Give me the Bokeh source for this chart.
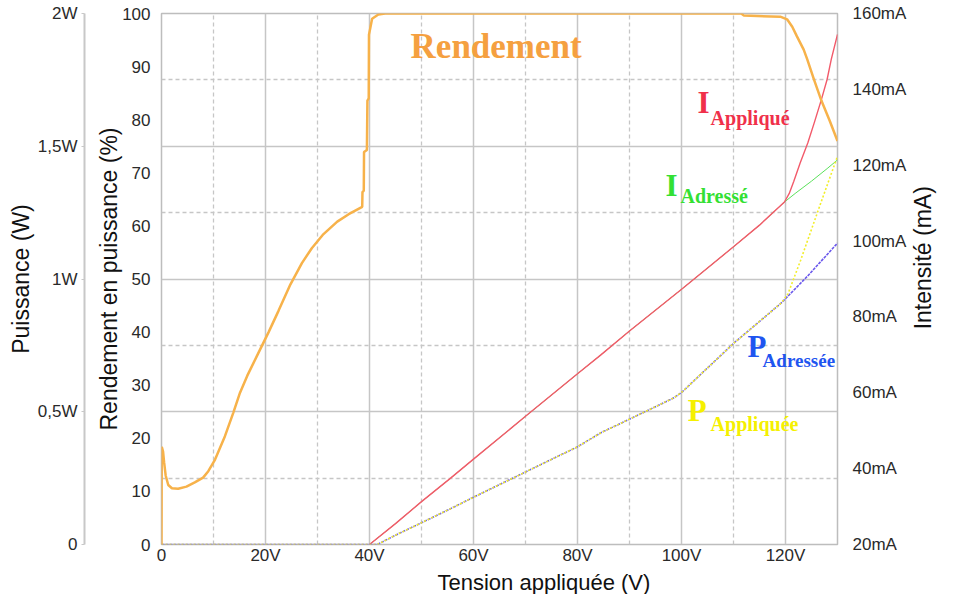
import math
from bokeh.plotting import figure
from bokeh.models import Range1d, LinearAxis, FixedTicker, Label, Grid, Title
from bokeh.embed import file_html
from bokeh.resources import INLINE

# ---------------- data ----------------
# Rendement en puissance (%) vs tension appliquée (V)
eff_v = [0, 0.05, 0.3, 0.5, 0.8, 1.3, 2, 3.2, 4.8, 6.4, 8, 9, 10.3, 12.2, 13.8,
         15.1, 16.5, 18.5, 20.6, 22.5, 24.8, 27, 28.9, 31, 33.8, 36, 38.6,
         38.65, 38.9, 38.95, 39.5, 39.6, 39.85, 39.9, 40.5, 41.7, 43, 111.5,
         112, 119, 120.3, 121.3, 122.2, 123.5, 124.2, 125.5, 126.9, 128.5, 130]
eff_pct = [0, 18.4, 17.5, 15.5, 13, 11.2, 10.6, 10.5, 10.9, 11.7, 12.6, 13.8, 16,
           20.4, 24.8, 28.6, 31.8, 35.8, 40, 44, 49, 53, 55.8, 58.3, 60.8, 62.2,
           63.6, 66.4, 66.6, 73.9, 74.3, 83.6, 84, 96, 99, 99.8, 100, 100,
           99.6, 99.4, 98.9, 97.5, 95.7, 93.2, 91.3, 87.5, 83.6, 79.8, 76]

# Intensité appliquée (mA)
i_app_v = [40, 45, 50, 55.6, 60, 70, 80, 84.5, 90, 100.2, 110, 115, 119.8,
           120.7, 121.6, 122.8, 124.3, 125.6, 126.9, 128, 128.8, 130]
i_app_ma = [20, 25.5, 31.3, 37.5, 42.5, 53.8, 65, 70, 76.3, 87.5, 98.5, 104.2,
            110.3, 112.5, 115.8, 120.5, 125.9, 131.5, 137.3, 142.6, 147.9, 154.5]

# Intensité adressée (mA)
i_adr_v = [40, 45, 50, 55.6, 60, 70, 80, 84.5, 90, 100.2, 110, 115, 119.8,
           122, 125, 128, 130]
i_adr_ma = [20, 25.5, 31.3, 37.5, 42.5, 53.8, 65, 70, 76.3, 87.5, 98.5, 104.2,
            110.3, 112.7, 115.8, 119.1, 121.4]

# Puissance adressée (W)
p_adr_v = [0, 41.5, 45, 50, 55.6, 60, 70, 80, 84.5, 90, 98.6, 100.2, 105,
           110.1, 115, 119.2, 124.2, 130]
p_adr_w = [0, 0, 0.035, 0.082, 0.135, 0.178, 0.273, 0.368, 0.421, 0.472, 0.553,
           0.576, 0.665, 0.759, 0.84, 0.91, 1.01, 1.135]

# Puissance appliquée (W)
p_app_v = [0, 41.5, 45, 50, 55.6, 60, 70, 80, 84.5, 90, 98.6, 100.2, 105,
           110.1, 115, 119.2, 120.5, 122.9, 126.8, 130]
p_app_w = [0, 0, 0.035, 0.082, 0.135, 0.178, 0.273, 0.368, 0.421, 0.472, 0.553,
           0.576, 0.665, 0.759, 0.84, 0.91, 0.945, 1.07, 1.287, 1.462]

# ticks
volt_ticks = [0, 20, 40, 60, 80, 100, 120]
volt_labels = ["0", "20V", "40V", "60V", "80V", "100V", "120V"]
volt_minor = [10, 30, 50, 70, 90, 110]
pct_ticks = [0, 10, 20, 30, 40, 50, 60, 70, 80, 90, 100]
power_ticks = [0, 0.5, 1, 1.5, 2]
power_labels = ["0", "0,5W", "1W", "1,5W", "2W"]
power_minor = [0.25, 0.75, 1.25, 1.75]
cur_ticks = [20, 40, 60, 80, 100, 120, 140, 160]
cur_labels = ["20mA", "40mA", "60mA", "80mA", "100mA", "120mA", "140mA", "160mA"]

# ---------------- figure ----------------
SANS = "Liberation Sans"
SERIF = "Liberation Serif"
TICK_FS = "17px"
GRID_C = "#C6C6C6"
TXT = "#2a2a2a"

p = figure(width=938, height=594, output_backend="svg", toolbar_location=None,
           x_range=Range1d(0, 130), y_range=Range1d(0, 100),
           min_border_left=161, min_border_right=101, min_border_top=13,
           min_border_bottom=49, background_fill_color="white",
           border_fill_color="white")
p.extra_y_ranges = {"power": Range1d(0, 2), "current": Range1d(20, 160)}
p.outline_line_color = "#BDBDBD"
p.outline_line_width = 1.5

# grids
p.xgrid.ticker = FixedTicker(ticks=volt_ticks[1:])
p.xgrid.grid_line_color = GRID_C
p.xgrid.grid_line_width = 1.5
p.add_layout(Grid(dimension=0, ticker=FixedTicker(ticks=volt_minor),
                  grid_line_color=GRID_C, grid_line_width=1.3,
                  grid_line_dash="4 3"))
p.ygrid.visible = False
p.add_layout(Grid(dimension=1, y_range_name="power",
                  ticker=FixedTicker(ticks=power_ticks[1:-1]),
                  grid_line_color=GRID_C, grid_line_width=1.5))
p.add_layout(Grid(dimension=1, y_range_name="power",
                  ticker=FixedTicker(ticks=power_minor),
                  grid_line_color=GRID_C, grid_line_width=1.3,
                  grid_line_dash="4 3"))


def style_axis(ax):
    ax.major_label_text_font = SANS
    ax.major_label_text_font_size = TICK_FS
    ax.major_label_text_color = TXT
    ax.minor_tick_line_color = None
    ax.major_tick_in = 0
    ax.axis_label_text_font = SANS
    ax.axis_label_text_font_style = "normal"
    ax.axis_label_text_color = "#111111"


# x axis
xa = p.xaxis[0]
style_axis(xa)
xa.ticker = FixedTicker(ticks=volt_ticks)
xa.major_label_overrides = {t: l for t, l in zip(volt_ticks, volt_labels)}
xa.axis_line_color = None
xa.major_tick_out = 0
xa.major_label_standoff = 1

# x axis title (offset to the right like the original)
p.add_layout(Title(text="Tension appliquée (V)", align="left", offset=276,
                   standoff=0, text_font=SANS, text_font_size="22px",
                   text_font_style="normal", text_color="#111111"), "below")

# percentage axis (primary left)
ya = p.yaxis[0]
style_axis(ya)
ya.ticker = FixedTicker(ticks=pct_ticks)
ya.axis_line_color = None
ya.major_tick_out = 0
ya.major_label_standoff = 11
ya.axis_label = "Rendement en puissance (%)"
ya.axis_label_text_font_size = "23px"
ya.axis_label_standoff = -3

# spacer between the two left axes
spacer = LinearAxis(ticker=FixedTicker(ticks=[]), axis_line_color=None,
                    major_tick_line_color=None, minor_tick_line_color=None,
                    major_tick_out=0, major_tick_in=0, major_label_standoff=0,
                    axis_label="\u00a0", axis_label_text_font_size="5.5px",
                    axis_label_standoff=0)
p.add_layout(spacer, "left")

# power axis
pa = LinearAxis(y_range_name="power", ticker=FixedTicker(ticks=power_ticks))
style_axis(pa)
pa.major_label_overrides = {t: l for t, l in zip(power_ticks, power_labels)}
pa.axis_line_color = "#C8C8C8"
pa.axis_line_width = 2
pa.major_tick_line_color = "#C8C8C8"
pa.major_tick_out = 3
pa.major_label_standoff = 4
pa.axis_label = "Puissance (W)"
pa.axis_label_text_font_size = "23px"
pa.axis_label_standoff = 1
p.add_layout(pa, "left")

# current axis (right)
ca = LinearAxis(y_range_name="current", ticker=FixedTicker(ticks=cur_ticks))
style_axis(ca)
ca.major_label_overrides = {t: l for t, l in zip(cur_ticks, cur_labels)}
ca.axis_line_color = None
ca.major_tick_out = 0
ca.major_label_standoff = 15
p.add_layout(ca, "right")

# right-hand title, reading bottom-to-top as in the original
p.add_layout(Label(x=146.4, y=54.0, text="Intensité (mA)", angle=90,
                   angle_units="deg", text_font=SANS, text_font_size="23px",
                   text_color="#111111", text_align="center",
                   text_baseline="middle"), "right")

# ---------------- series ----------------
p.line(i_adr_v, i_adr_ma, y_range_name="current", line_color="#5BE05B",
       line_width=1.0)
p.line(i_app_v, i_app_ma, y_range_name="current", line_color="#F25A6A",
       line_width=1.4)
p.line(p_adr_v, p_adr_w, y_range_name="power", line_color="#6A58EC",
       line_width=1.6, line_dash="3 1")
p.line(p_app_v, p_app_w, y_range_name="power", line_color="#F2EE2A",
       line_width=1.6, line_dash="2 2")
p.line(eff_v, eff_pct, line_color="#F7B24A", line_width=2.5)

# ---------------- annotations ----------------
def lab(x, y, text, color, size, font=SERIF, style="bold", **kw):
    p.add_layout(Label(x=x, y=y, text=text, text_color=color,
                       text_font=font, text_font_size=size,
                       text_font_style=style, text_baseline="middle", **kw))


lab(47.9, 93.7, "Rendement", "#F5A040", "35px")
lab(103.1, 83.2, "I", "#F0304A", "31px")
lab(105.6, 80.4, "Appliqué", "#F0304A", "20px")
lab(96.9, 67.7, "I", "#33E033", "31px")
lab(99.8, 65.6, "Adressé", "#33E033", "20px")
lab(112.7, 37.3, "P", "#1F55F0", "31px")
lab(115.6, 34.6, "Adressée", "#1F55F0", "19px")
lab(101.2, 25.2, "P", "#F5F000", "31px")
lab(105.6, 22.6, "Appliquée", "#F5F000", "20px")

open("out.html", "w").write(file_html(p, INLINE))
